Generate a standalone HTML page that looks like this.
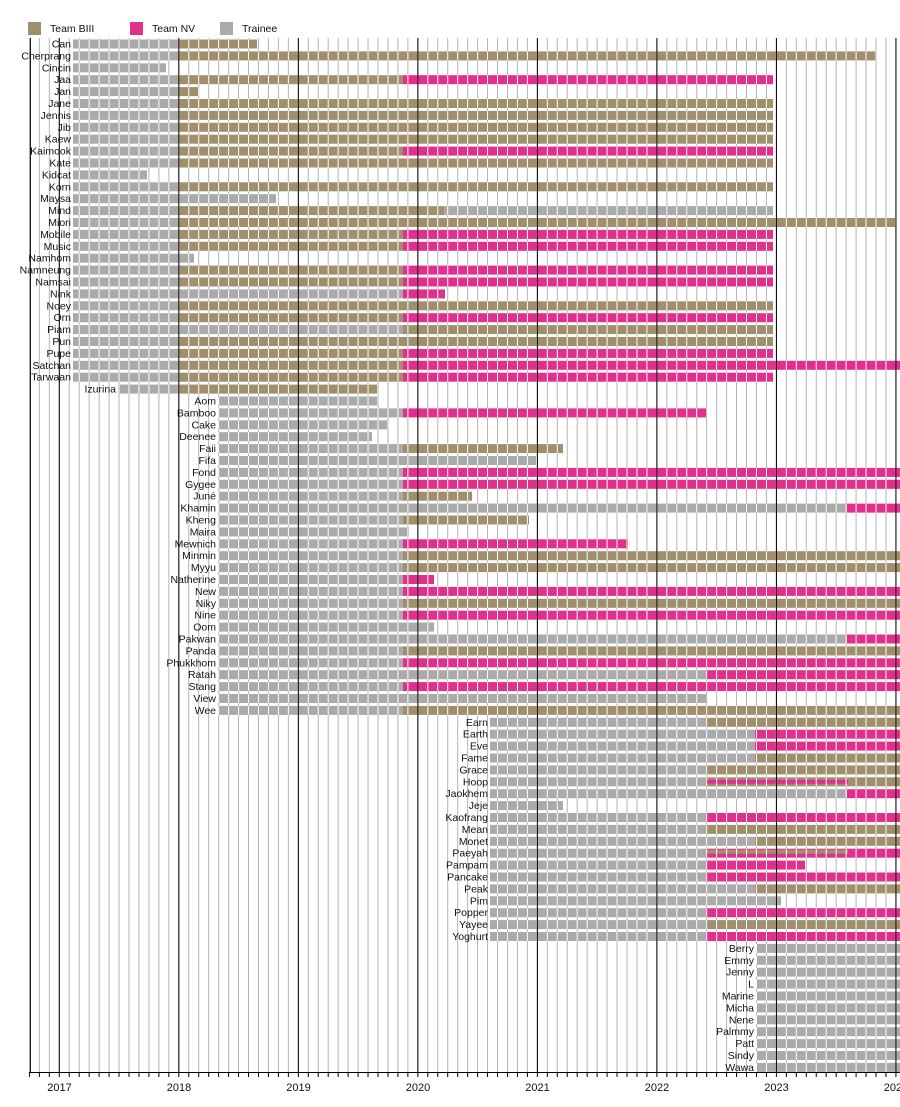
<!DOCTYPE html>
<html><head><meta charset="utf-8"><style>
html,body{margin:0;padding:0;background:#fff;width:900px;height:1107px;overflow:hidden}
svg{display:block;font-family:"Liberation Sans",sans-serif}
text{font-size:10.5px;fill:#111;text-anchor:end}
.t{fill:#aaaaaa}.b{fill:#a08f6c}.n{fill:#e0308c}
#bars rect{height:9px}
</style></head><body>
<svg width="900" height="1107" viewBox="0 0 900 1107">
<defs>
<pattern id="gm" patternUnits="userSpaceOnUse" x="28.9" y="0" width="9.96" height="10"><rect x="0" y="0" width="1" height="10" fill="#b4b4b4"/></pattern>
<pattern id="wm" patternUnits="userSpaceOnUse" x="28.9" y="0" width="9.96" height="10"><rect x="0" y="0" width="1" height="10" fill="#fff"/></pattern>
<pattern id="ym" patternUnits="userSpaceOnUse" x="58.8" y="0" width="119.52" height="10"><rect x="0" y="0" width="1" height="10" fill="#000"/></pattern>
<pattern id="tk" patternUnits="userSpaceOnUse" x="28.9" y="0" width="9.96" height="10"><rect x="0" y="0" width="1" height="10" fill="#000"/></pattern>
<filter id="wh"><feColorMatrix type="matrix" values="0 0 0 0 1 0 0 0 0 1 0 0 0 0 1 0 0 0 1 0"/></filter>
<mask id="bm" maskUnits="userSpaceOnUse" x="0" y="0" width="900" height="1107"><use href="#bars" filter="url(#wh)"/></mask>
</defs>
<rect x="28" y="22" width="13" height="13" fill="#a08f6c"/><text x="50" y="32" style="text-anchor:start">Team BIII</text>
<rect x="130" y="22" width="13" height="13" fill="#e0308c"/><text x="152" y="32" style="text-anchor:start">Team NV</text>
<rect x="220" y="22" width="13" height="13" fill="#aaaaaa"/><text x="242" y="32" style="text-anchor:start">Trainee</text>
<rect x="29" y="38" width="871" height="1034" fill="url(#gm)"/>
<g id="bars">
<g transform="translate(0,39.5)"><rect class="t" x="73" width="106"/><rect class="b" x="179" width="78"/></g>
<g transform="translate(0,51.4)"><rect class="t" x="73" width="106"/><rect class="b" x="179" width="697"/></g>
<g transform="translate(0,63.3)"><rect class="t" x="73" width="93"/></g>
<g transform="translate(0,75.2)"><rect class="t" x="73" width="106"/><rect class="b" x="179" width="224"/><rect class="n" x="403" width="370"/></g>
<g transform="translate(0,87.1)"><rect class="t" x="73" width="106"/><rect class="b" x="179" width="20"/></g>
<g transform="translate(0,99.0)"><rect class="t" x="73" width="106"/><rect class="b" x="179" width="594"/></g>
<g transform="translate(0,110.9)"><rect class="t" x="73" width="106"/><rect class="b" x="179" width="594"/></g>
<g transform="translate(0,122.8)"><rect class="t" x="73" width="106"/><rect class="b" x="179" width="594"/></g>
<g transform="translate(0,134.7)"><rect class="t" x="73" width="106"/><rect class="b" x="179" width="594"/></g>
<g transform="translate(0,146.6)"><rect class="t" x="73" width="106"/><rect class="b" x="179" width="224"/><rect class="n" x="403" width="370"/></g>
<g transform="translate(0,158.5)"><rect class="t" x="73" width="106"/><rect class="b" x="179" width="594"/></g>
<g transform="translate(0,170.4)"><rect class="t" x="73" width="74"/></g>
<g transform="translate(0,182.3)"><rect class="t" x="73" width="106"/><rect class="b" x="179" width="594"/></g>
<g transform="translate(0,194.2)"><rect class="t" x="73" width="203"/></g>
<g transform="translate(0,206.1)"><rect class="t" x="73" width="106"/><rect class="b" x="179" width="265"/><rect class="t" x="444" width="329"/></g>
<g transform="translate(0,218.0)"><rect class="t" x="73" width="106"/><rect class="b" x="179" width="716"/></g>
<g transform="translate(0,229.9)"><rect class="t" x="73" width="106"/><rect class="b" x="179" width="224"/><rect class="n" x="403" width="370"/></g>
<g transform="translate(0,241.8)"><rect class="t" x="73" width="106"/><rect class="b" x="179" width="224"/><rect class="n" x="403" width="370"/></g>
<g transform="translate(0,253.7)"><rect class="t" x="73" width="121"/></g>
<g transform="translate(0,265.6)"><rect class="t" x="73" width="106"/><rect class="b" x="179" width="224"/><rect class="n" x="403" width="370"/></g>
<g transform="translate(0,277.5)"><rect class="t" x="73" width="106"/><rect class="b" x="179" width="224"/><rect class="n" x="403" width="370"/></g>
<g transform="translate(0,289.4)"><rect class="t" x="73" width="330"/><rect class="n" x="403" width="42"/></g>
<g transform="translate(0,301.3)"><rect class="t" x="73" width="106"/><rect class="b" x="179" width="594"/></g>
<g transform="translate(0,313.2)"><rect class="t" x="73" width="106"/><rect class="b" x="179" width="224"/><rect class="n" x="403" width="370"/></g>
<g transform="translate(0,325.1)"><rect class="t" x="73" width="330"/><rect class="b" x="403" width="370"/></g>
<g transform="translate(0,337.0)"><rect class="t" x="73" width="106"/><rect class="b" x="179" width="594"/></g>
<g transform="translate(0,348.9)"><rect class="t" x="73" width="106"/><rect class="b" x="179" width="224"/><rect class="n" x="403" width="370"/></g>
<g transform="translate(0,360.8)"><rect class="t" x="73" width="106"/><rect class="b" x="179" width="224"/><rect class="n" x="403" width="497"/></g>
<g transform="translate(0,372.7)"><rect class="t" x="73" width="106"/><rect class="b" x="179" width="224"/><rect class="n" x="403" width="370"/></g>
<g transform="translate(0,384.6)"><rect class="t" x="118" width="61"/><rect class="b" x="179" width="198"/></g>
<g transform="translate(0,396.5)"><rect class="t" x="218" width="159"/></g>
<g transform="translate(0,408.4)"><rect class="t" x="218" width="185"/><rect class="n" x="403" width="303"/></g>
<g transform="translate(0,420.3)"><rect class="t" x="218" width="169"/></g>
<g transform="translate(0,432.2)"><rect class="t" x="218" width="154"/></g>
<g transform="translate(0,444.1)"><rect class="t" x="218" width="185"/><rect class="b" x="403" width="160"/></g>
<g transform="translate(0,456.0)"><rect class="t" x="218" width="318"/></g>
<g transform="translate(0,467.9)"><rect class="t" x="218" width="185"/><rect class="n" x="403" width="497"/></g>
<g transform="translate(0,479.8)"><rect class="t" x="218" width="185"/><rect class="n" x="403" width="497"/></g>
<g transform="translate(0,491.7)"><rect class="t" x="218" width="185"/><rect class="b" x="403" width="69"/></g>
<g transform="translate(0,503.6)"><rect class="t" x="218" width="629"/><rect class="n" x="847" width="53"/></g>
<g transform="translate(0,515.5)"><rect class="t" x="218" width="185"/><rect class="b" x="403" width="126"/></g>
<g transform="translate(0,527.4)"><rect class="t" x="218" width="191"/></g>
<g transform="translate(0,539.3)"><rect class="t" x="218" width="185"/><rect class="n" x="403" width="225"/></g>
<g transform="translate(0,551.2)"><rect class="t" x="218" width="185"/><rect class="b" x="403" width="497"/></g>
<g transform="translate(0,563.1)"><rect class="t" x="218" width="185"/><rect class="b" x="403" width="497"/></g>
<g transform="translate(0,575.0)"><rect class="t" x="218" width="185"/><rect class="n" x="403" width="31"/></g>
<g transform="translate(0,586.9)"><rect class="t" x="218" width="185"/><rect class="n" x="403" width="497"/></g>
<g transform="translate(0,598.8)"><rect class="t" x="218" width="185"/><rect class="b" x="403" width="497"/></g>
<g transform="translate(0,610.7)"><rect class="t" x="218" width="185"/><rect class="n" x="403" width="497"/></g>
<g transform="translate(0,622.6)"><rect class="t" x="218" width="216"/></g>
<g transform="translate(0,634.5)"><rect class="t" x="218" width="629"/><rect class="n" x="847" width="53"/></g>
<g transform="translate(0,646.4)"><rect class="t" x="218" width="185"/><rect class="b" x="403" width="497"/></g>
<g transform="translate(0,658.3)"><rect class="t" x="218" width="185"/><rect class="n" x="403" width="497"/></g>
<g transform="translate(0,670.2)"><rect class="t" x="218" width="488"/><rect class="n" x="706" width="194"/></g>
<g transform="translate(0,682.1)"><rect class="t" x="218" width="185"/><rect class="n" x="403" width="497"/></g>
<g transform="translate(0,694.0)"><rect class="t" x="218" width="488"/></g>
<g transform="translate(0,705.9)"><rect class="t" x="218" width="185"/><rect class="b" x="403" width="497"/></g>
<g transform="translate(0,717.8)"><rect class="t" x="490" width="216"/><rect class="b" x="706" width="194"/></g>
<g transform="translate(0,729.7)"><rect class="t" x="490" width="265"/><rect class="n" x="755" width="145"/></g>
<g transform="translate(0,741.6)"><rect class="t" x="490" width="265"/><rect class="n" x="755" width="145"/></g>
<g transform="translate(0,753.5)"><rect class="t" x="490" width="265"/><rect class="b" x="755" width="145"/></g>
<g transform="translate(0,765.4)"><rect class="t" x="490" width="216"/><rect class="b" x="706" width="194"/></g>
<g transform="translate(0,777.3)"><rect class="t" x="490" width="216"/><rect class="b" x="706" width="194"/><rect class="n" x="706" y="2.5" width="142" style="height:4px"/></g>
<g transform="translate(0,789.2)"><rect class="t" x="490" width="357"/><rect class="n" x="847" width="53"/></g>
<g transform="translate(0,801.1)"><rect class="t" x="490" width="73"/></g>
<g transform="translate(0,813.0)"><rect class="t" x="490" width="216"/><rect class="n" x="706" width="194"/></g>
<g transform="translate(0,824.9)"><rect class="t" x="490" width="216"/><rect class="b" x="706" width="194"/></g>
<g transform="translate(0,836.8)"><rect class="t" x="490" width="265"/><rect class="b" x="755" width="145"/></g>
<g transform="translate(0,848.7)"><rect class="t" x="490" width="216"/><rect class="n" x="706" width="194"/><rect class="b" x="706" y="1" width="142" style="height:4px"/></g>
<g transform="translate(0,860.6)"><rect class="t" x="490" width="216"/><rect class="n" x="706" width="99"/></g>
<g transform="translate(0,872.5)"><rect class="t" x="490" width="216"/><rect class="n" x="706" width="194"/></g>
<g transform="translate(0,884.4)"><rect class="t" x="490" width="265"/><rect class="b" x="755" width="145"/></g>
<g transform="translate(0,896.3)"><rect class="t" x="490" width="291"/></g>
<g transform="translate(0,908.2)"><rect class="t" x="490" width="216"/><rect class="n" x="706" width="194"/></g>
<g transform="translate(0,920.1)"><rect class="t" x="490" width="216"/><rect class="b" x="706" width="194"/></g>
<g transform="translate(0,932.0)"><rect class="t" x="490" width="216"/><rect class="n" x="706" width="194"/></g>
<g transform="translate(0,943.9)"><rect class="t" x="756" width="144"/></g>
<g transform="translate(0,955.8)"><rect class="t" x="756" width="144"/></g>
<g transform="translate(0,967.7)"><rect class="t" x="756" width="144"/></g>
<g transform="translate(0,979.6)"><rect class="t" x="756" width="144"/></g>
<g transform="translate(0,991.5)"><rect class="t" x="756" width="144"/></g>
<g transform="translate(0,1003.4)"><rect class="t" x="756" width="144"/></g>
<g transform="translate(0,1015.3)"><rect class="t" x="756" width="144"/></g>
<g transform="translate(0,1027.2)"><rect class="t" x="756" width="144"/></g>
<g transform="translate(0,1039.1)"><rect class="t" x="756" width="144"/></g>
<g transform="translate(0,1051.0)"><rect class="t" x="756" width="144"/></g>
<g transform="translate(0,1062.9)"><rect class="t" x="756" width="144"/></g>
</g>
<rect x="29" y="38" width="871" height="1034" fill="url(#wm)" mask="url(#bm)"/>
<rect x="29" y="38" width="871" height="1034" fill="url(#ym)"/>
<rect x="29.9" y="38" width="1" height="1035" fill="#000"/>
<g>
<text x="71" y="47.5">Can</text>
<text x="71" y="59.4">Cherprang</text>
<text x="71" y="71.3">Cincin</text>
<text x="71" y="83.2">Jaa</text>
<text x="71" y="95.1">Jan</text>
<text x="71" y="107">Jane</text>
<text x="71" y="118.9">Jennis</text>
<text x="71" y="130.8">Jib</text>
<text x="71" y="142.7">Kaew</text>
<text x="71" y="154.6">Kaimook</text>
<text x="71" y="166.5">Kate</text>
<text x="71" y="178.4">Kidcat</text>
<text x="71" y="190.3">Korn</text>
<text x="71" y="202.2">Maysa</text>
<text x="71" y="214.1">Mind</text>
<text x="71" y="226">Miori</text>
<text x="71" y="237.9">Mobile</text>
<text x="71" y="249.8">Music</text>
<text x="71" y="261.7">Namhom</text>
<text x="71" y="273.6">Namneung</text>
<text x="71" y="285.5">Namsai</text>
<text x="71" y="297.4">Nink</text>
<text x="71" y="309.3">Noey</text>
<text x="71" y="321.2">Orn</text>
<text x="71" y="333.1">Piam</text>
<text x="71" y="345">Pun</text>
<text x="71" y="356.9">Pupe</text>
<text x="71" y="368.8">Satchan</text>
<text x="71" y="380.7">Tarwaan</text>
<text x="116" y="392.6">Izurina</text>
<text x="216" y="404.5">Aom</text>
<text x="216" y="416.4">Bamboo</text>
<text x="216" y="428.3">Cake</text>
<text x="216" y="440.2">Deenee</text>
<text x="216" y="452.1">Faii</text>
<text x="216" y="464">Fifa</text>
<text x="216" y="475.9">Fond</text>
<text x="216" y="487.8">Gygee</text>
<text x="216" y="499.7">Juné</text>
<text x="216" y="511.6">Khamin</text>
<text x="216" y="523.5">Kheng</text>
<text x="216" y="535.4">Maira</text>
<text x="216" y="547.3">Mewnich</text>
<text x="216" y="559.2">Minmin</text>
<text x="216" y="571.1">Myyu</text>
<text x="216" y="583">Natherine</text>
<text x="216" y="594.9">New</text>
<text x="216" y="606.8">Niky</text>
<text x="216" y="618.7">Nine</text>
<text x="216" y="630.6">Oom</text>
<text x="216" y="642.5">Pakwan</text>
<text x="216" y="654.4">Panda</text>
<text x="216" y="666.3">Phukkhom</text>
<text x="216" y="678.2">Ratah</text>
<text x="216" y="690.1">Stang</text>
<text x="216" y="702">View</text>
<text x="216" y="713.9">Wee</text>
<text x="488" y="725.8">Earn</text>
<text x="488" y="737.7">Earth</text>
<text x="488" y="749.6">Eve</text>
<text x="488" y="761.5">Fame</text>
<text x="488" y="773.4">Grace</text>
<text x="488" y="785.3">Hoop</text>
<text x="488" y="797.2">Jaokhem</text>
<text x="488" y="809.1">Jeje</text>
<text x="488" y="821">Kaofrang</text>
<text x="488" y="832.9">Mean</text>
<text x="488" y="844.8">Monet</text>
<text x="488" y="856.7">Paeyah</text>
<text x="488" y="868.6">Pampam</text>
<text x="488" y="880.5">Pancake</text>
<text x="488" y="892.4">Peak</text>
<text x="488" y="904.3">Pim</text>
<text x="488" y="916.2">Popper</text>
<text x="488" y="928.1">Yayee</text>
<text x="488" y="940">Yoghurt</text>
<text x="754" y="951.9">Berry</text>
<text x="754" y="963.8">Emmy</text>
<text x="754" y="975.7">Jenny</text>
<text x="754" y="987.6">L</text>
<text x="754" y="999.5">Marine</text>
<text x="754" y="1011.4">Micha</text>
<text x="754" y="1023.3">Nene</text>
<text x="754" y="1035.2">Palmmy</text>
<text x="754" y="1047.1">Patt</text>
<text x="754" y="1059">Sindy</text>
<text x="754" y="1070.9">Wawa</text>
</g>
<rect x="29.9" y="1072" width="870" height="1" fill="#000"/>
<rect x="29" y="1072" width="871" height="5" fill="url(#tk)"/>
<g style="font-size:11px">
<text x="59.5" y="1091" style="text-anchor:middle;font-size:11px">2017</text>
<text x="179" y="1091" style="text-anchor:middle;font-size:11px">2018</text>
<text x="298.5" y="1091" style="text-anchor:middle;font-size:11px">2019</text>
<text x="418" y="1091" style="text-anchor:middle;font-size:11px">2020</text>
<text x="537.5" y="1091" style="text-anchor:middle;font-size:11px">2021</text>
<text x="657" y="1091" style="text-anchor:middle;font-size:11px">2022</text>
<text x="776.5" y="1091" style="text-anchor:middle;font-size:11px">2023</text>
<text x="896" y="1091" style="text-anchor:middle;font-size:11px">2024</text>
</g>
</svg>
</body></html>
